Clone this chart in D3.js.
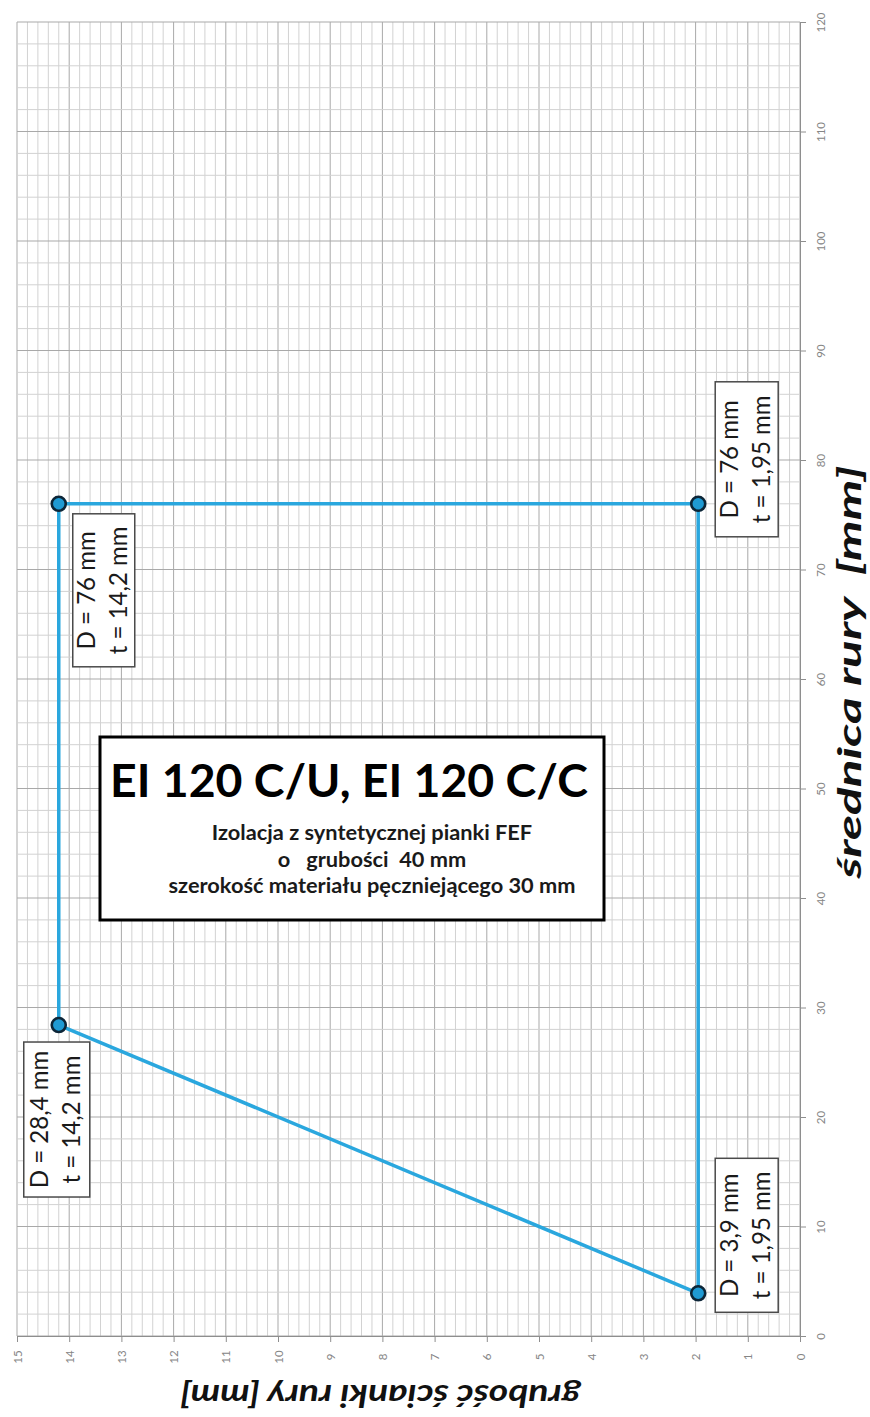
<!DOCTYPE html>
<html lang="pl">
<head>
<meta charset="utf-8">
<title>EI 120 C/U, EI 120 C/C</title>
<script src="https://cdn.jsdelivr.net/npm/d3@7"></script>
<style>
  html, body { margin: 0; padding: 0; background: #ffffff; }
  svg { display: block; }
  text { font-family: Lato, Carlito, "Open Sans", "DejaVu Sans", sans-serif; }
</style>
</head>
<body>
<svg id="chart" width="870" height="1417"></svg>
<script>
// Wall thickness t [mm] and pipe diameter D [mm] of the polygon corners
const wallThickness = [14.2, 1.95, 1.95, 14.2];
const pipeDiameter  = [76, 76, 3.9, 28.4];
const cornerLabels  = [
  ["D = 76 mm", "t = 14,2 mm"],
  ["D = 76 mm", "t = 1,95 mm"],
  ["D = 3,9 mm", "t = 1,95 mm"],
  ["D = 28,4 mm", "t = 14,2 mm"]
];

// Axis ticks
const thicknessTicks = d3.range(0, 16, 1);
const diameterTicks  = d3.range(0, 121, 10);

// Text
const titleText = "EI 120 C/U, EI 120 C/C";
const subtitleLines = [
  "Izolacja z syntetycznej pianki FEF",
  "o   grubości  40 mm",
  "szerokość materiału pęczniejącego 30 mm"
];
const diameterTitle  = "średnica rury  [mm]";
const thicknessTitle = "grubość ścianki rury [mm]";

const svg = d3.select("#chart");

// The chart lies on its side: wall thickness runs right-to-left along the bottom,
// diameter runs bottom-to-top along the right edge.
const x = d3.scaleLinear().domain([0, 15]).range([800, 17]);
const y = d3.scaleLinear().domain([0, 120]).range([1336, 22]);

const [xMin, xMax] = x.domain();
const [yMin, yMax] = y.domain();

// Millimetre-paper grid
const grid = svg.append("g").attr("class", "grid");
const vLines = d3.range(0, 76).map(i => +(i * 0.2).toFixed(1));
const hLines = d3.range(0, 61).map(i => i * 2);

grid.selectAll("line.v").data(vLines).join("line")
  .attr("class", "v")
  .attr("x1", d => x(d)).attr("x2", d => x(d))
  .attr("y1", y(yMin)).attr("y2", y(yMax))
  .attr("stroke", d => Math.abs(d - Math.round(d)) < 1e-6 ? "#a9a9a9" : "#d2d2d2")
  .attr("stroke-width", 1);

grid.selectAll("line.h").data(hLines).join("line")
  .attr("class", "h")
  .attr("x1", x(xMax)).attr("x2", x(xMin))
  .attr("y1", d => y(d)).attr("y2", d => y(d))
  .attr("stroke", d => d % 10 === 0 ? "#a9a9a9" : "#d2d2d2")
  .attr("stroke-width", 1);

// Axes
const axisColor = "#8e8e8e";
const xAxis = svg.append("g")
  .attr("transform", `translate(0,${y(yMin)})`)
  .call(d3.axisBottom(x).tickValues(thicknessTicks).tickSize(6).tickSizeOuter(0));
const yAxis = svg.append("g")
  .attr("transform", `translate(${x(xMin)},0)`)
  .call(d3.axisRight(y).tickValues(diameterTicks).tickSize(6).tickSizeOuter(0));

[xAxis, yAxis].forEach(ax => {
  ax.select(".domain").attr("stroke", axisColor);
  ax.selectAll(".tick line").attr("stroke", axisColor);
  ax.selectAll(".tick text")
    .attr("fill", "#858585")
    .attr("font-size", 11.5)
    .attr("font-family", "Lato, 'DejaVu Sans', sans-serif")
    .attr("text-anchor", "middle")
    .attr("x", 0).attr("y", 0)
    .attr("dy", "0.35em");
});
xAxis.selectAll(".tick text").attr("transform", "translate(0,21) rotate(-90)");
yAxis.selectAll(".tick text").attr("transform", "translate(21,0) rotate(-90)");

// Fit a text element's font size to a given rendered width
function fitWidth(sel, target) {
  const w = sel.node().getComputedTextLength();
  const fs = parseFloat(sel.attr("font-size"));
  const size = fs * target / w;
  sel.attr("font-size", size);
  return size;
}

// Stretch a text along its reading direction so it spans a given width
function stretchTo(sel, baseTransform, target) {
  const w = sel.node().getComputedTextLength();
  sel.attr("transform", `${baseTransform} scale(${target / w},1)`);
}

// Axis titles
const dTitle = svg.append("text")
  .attr("text-anchor", "middle")
  .attr("font-weight", 700)
  .attr("font-style", "italic")
  .attr("font-size", 32)
  .attr("fill", "#111")
  .style("white-space", "pre")
  .text(diameterTitle);
stretchTo(dTitle, "translate(861,672) rotate(-90)", 413);

const tTitle = svg.append("text")
  .attr("text-anchor", "middle")
  .attr("font-weight", 700)
  .attr("font-style", "italic")
  .attr("font-size", 31)
  .attr("fill", "#111")
  .text(thicknessTitle);
stretchTo(tTitle, "translate(380,1385) rotate(180)", 400);

// Admissible region
const corners = wallThickness.map((t, i) => ({ t, d: pipeDiameter[i], label: cornerLabels[i] }));
const outline = d3.line().x(p => x(p.t)).y(p => y(p.d)).curve(d3.curveLinearClosed);

svg.append("path")
  .datum(corners)
  .attr("d", outline)
  .attr("fill", "none")
  .attr("stroke", "#2aa7de")
  .attr("stroke-width", 3.5)
  .attr("stroke-linejoin", "round");

// Corner annotation boxes (offsets from the corner point, in px)
const boxOffsets = [
  { dx: 14,  dy: 10,   w: 62, h: 153 },
  { dx: 17,  dy: -122, w: 63, h: 155 },
  { dx: 17,  dy: -135, w: 63, h: 154 },
  { dx: -35, dy: 17,   w: 66, h: 155 }
];

const notes = svg.append("g").selectAll("g").data(corners).join("g")
  .attr("transform", (p, i) => `translate(${x(p.t) + boxOffsets[i].dx},${y(p.d) + boxOffsets[i].dy})`);

notes.append("rect")
  .attr("width", (p, i) => boxOffsets[i].w)
  .attr("height", (p, i) => boxOffsets[i].h)
  .attr("fill", "#ffffff")
  .attr("stroke", "#4a4a4a")
  .attr("stroke-width", 1.5);

const noteText = notes.append("text")
  .attr("transform", (p, i) => `translate(${boxOffsets[i].w / 2},${boxOffsets[i].h / 2}) rotate(-90)`)
  .attr("text-anchor", "middle")
  .attr("font-size", 24)
  .attr("fill", "#1a1a1a");
noteText.selectAll("tspan").data(p => p.label).join("tspan")
  .attr("x", 0)
  .attr("y", (s, j) => j === 0 ? -9 : 23.5)
  .text(s => s);

// Uniform size for the annotation text, fitted on one reference line
{
  const probe = svg.append("text").attr("font-size", 24).text(cornerLabels[0][1]);
  const w = probe.node().getComputedTextLength();
  probe.remove();
  noteText.attr("font-size", 24 * 128 / w);
}

// Corner markers
svg.append("g").selectAll("circle").data(corners).join("circle")
  .attr("cx", p => x(p.t))
  .attr("cy", p => y(p.d))
  .attr("r", 7)
  .attr("fill", "#1f9ad3")
  .attr("stroke", "#0d2638")
  .attr("stroke-width", 2.6);

// Title box
const box = svg.append("g").attr("transform", "translate(100,737)");
box.append("rect")
  .attr("width", 504).attr("height", 183)
  .attr("fill", "#ffffff")
  .attr("stroke", "#000")
  .attr("stroke-width", 3);

const title = box.append("text")
  .attr("x", 249).attr("y", 60)
  .attr("text-anchor", "middle")
  .attr("font-weight", 700)
  .attr("font-size", 50)
  .attr("fill", "#000")
  .text(titleText);
fitWidth(title, 478);

const subBaselines = [103, 130, 156];
const subs = box.selectAll("text.sub").data(subtitleLines).join("text")
  .attr("class", "sub")
  .attr("x", 272)
  .attr("y", (s, i) => subBaselines[i])
  .attr("text-anchor", "middle")
  .attr("font-weight", 700)
  .attr("font-size", 19)
  .attr("fill", "#1a1a1a")
  .style("white-space", "pre")
  .text(s => s);
{
  const last = d3.select(subs.nodes()[2]);
  const size = fitWidth(last, 407);
  subs.attr("font-size", size);
}
</script>
</body>
</html>
